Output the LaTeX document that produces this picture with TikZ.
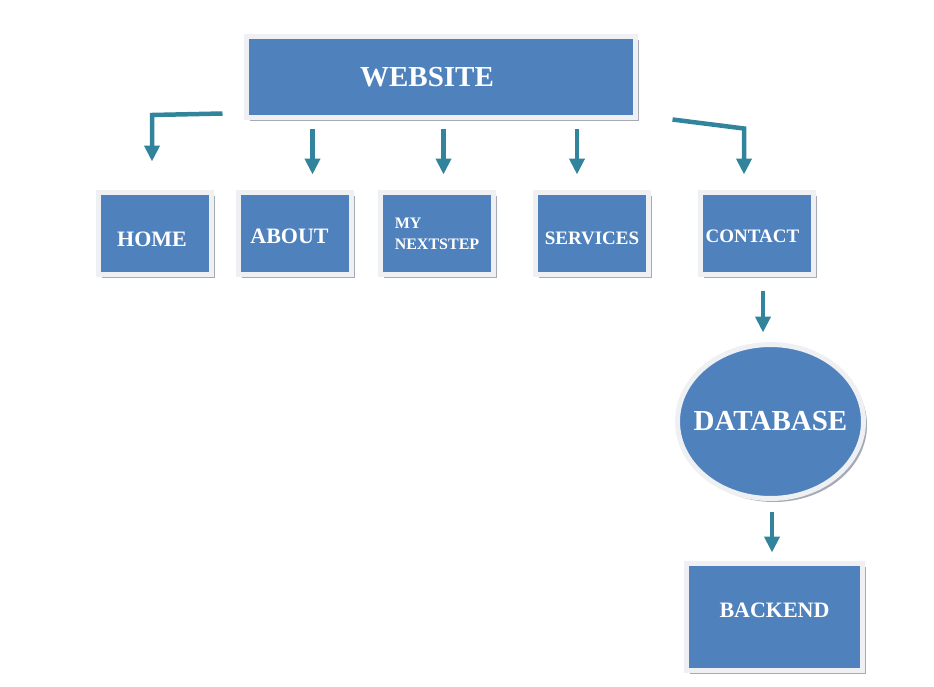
\documentclass[tikz,border=0pt]{standalone}
\usepackage{fontspec}
\setmainfont{Liberation Serif}
\usepackage{tikz}
\usepackage{xcolor}
\usetikzlibrary{shapes.geometric, shadows, arrows.meta}
\definecolor{pgblue}{RGB}{79, 129, 189}
\definecolor{pgrim}{RGB}{238, 240, 243}
\definecolor{pgshade}{RGB}{165, 170, 180}
\definecolor{pgteal}{RGB}{49, 132, 155}
\tikzset{
    pgnode/.style={rectangle, fill=pgblue, draw=pgrim, line width=5pt, text=white,
        drop shadow={shadow xshift=3.5pt, shadow yshift=-3.5pt, fill=pgshade, opacity=1}},
    sitenode/.style={pgnode, minimum width=389pt, minimum height=81pt, font=\bfseries\fontsize{29}{32}\selectfont},
    pagenode/.style={pgnode, minimum width=113pt, minimum height=82pt, font=\bfseries\fontsize{22}{26}\selectfont},
    smallnode/.style={pagenode, font=\bfseries\fontsize{19}{23}\selectfont},
    dbnode/.style={pgnode, ellipse, inner sep=0pt, minimum width=186pt, minimum height=154pt, font=\bfseries\fontsize{29}{32}\selectfont},
    link/.style={draw=pgteal, line width=4.5pt, -{Triangle[width=15pt, length=16pt]}}
}

\begin{document}
\begin{tikzpicture}[x=1pt, y=-1pt]
            \useasboundingbox (0,0) rectangle (934,686);
            % boxes
            \node[sitenode] (web) at (441,77) {WEBSITE\kern28pt};
            \node[pagenode, text height=25.6pt] (home) at (155,233.5) {HOME\kern6pt};
            \node[pagenode, text height=20.6pt] (about) at (294.5,233.5) {ABOUT\kern10pt};
            \node[pagenode, align=left, font=\bfseries\fontsize{16}{21}\selectfont] (next) at (437,233.5) {MY\\NEXTSTEP};
            \node[smallnode, text height=22.6pt] (serv) at (592,233.5) {SERVICES};
            \node[smallnode, text height=18.6pt] (contact) at (756.5,233.5) {CONTACT\kern8pt};
            \node[dbnode] (db) at (770.5,421.5) {\makebox[0pt]{DATABASE}};
            \node[pagenode, minimum width=176pt, minimum height=107pt, text depth=14pt] (back) at (774.5,617) {BACKEND};
            % arrows
            \draw[link] ([shift={(-21.5,-6.5)}]web.south west) -- ([shift={(-3,-75)}]home.north) -- ([shift={(-3,-28.5)}]home.north);
            \draw[link] ([shift={(18,-61.5)}]about.north) -- ([shift={(18,-15.5)}]about.north);
            \draw[link] ([shift={(6.5,-61.5)}]next.north) -- ([shift={(6.5,-15.5)}]next.north);
            \draw[link] ([shift={(-15,-61.5)}]serv.north) -- ([shift={(-15,-15.5)}]serv.north);
            \draw[link] ([shift={(34.5,-0.5)}]web.south east) -- ([shift={(-12.5,-61.5)}]contact.north) -- ([shift={(-12.5,-15.5)}]contact.north);
            \draw[link] ([shift={(6.5,13.5)}]contact.south) -- ([shift={(-7.5,-9.5)}]db.north);
            \draw[link] ([shift={(1.5,10.5)}]db.south) -- ([shift={(-2.5,-8.5)}]back.north);
        \end{tikzpicture}
\end{document}
